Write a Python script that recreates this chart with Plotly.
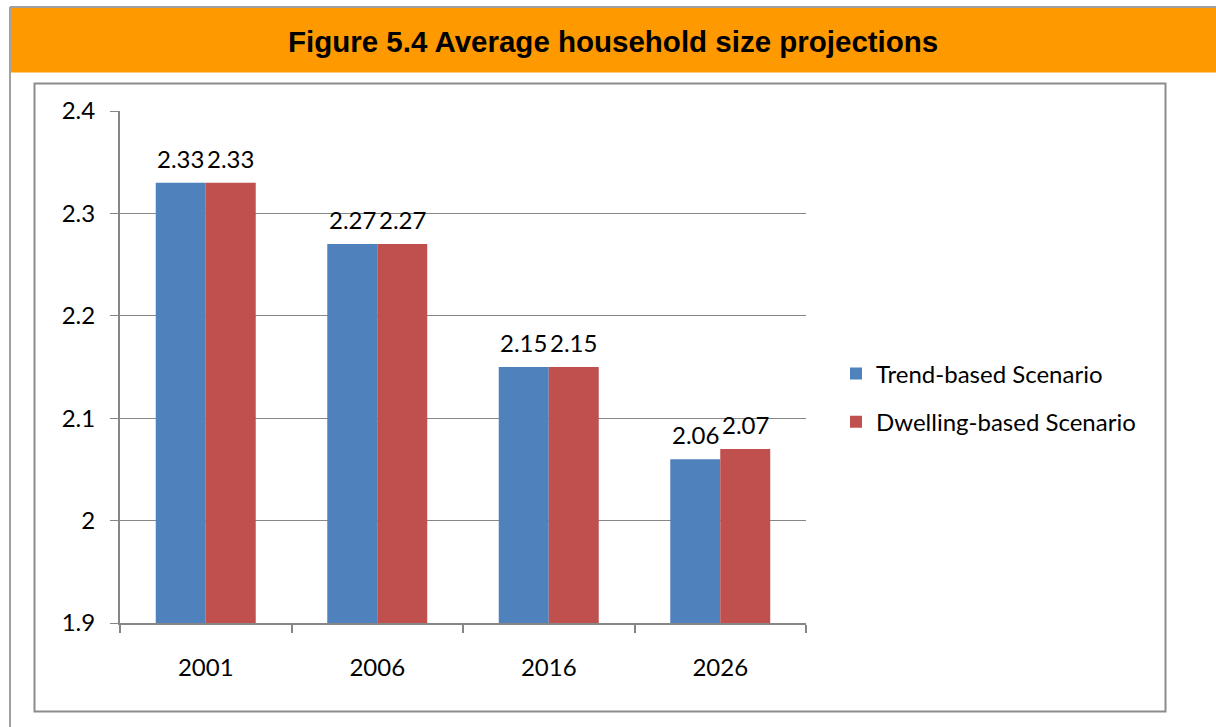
import plotly.graph_objects as go

categories = ["2001", "2006", "2016", "2026"]
trend_values = [2.33, 2.27, 2.15, 2.06]
dwelling_values = [2.33, 2.27, 2.15, 2.07]
series_names = ["Trend-based Scenario", "Dwelling-based Scenario"]
title_text = "Figure 5.4 Average household size projections"
y_ticks = [1.9, 2.0, 2.1, 2.2, 2.3, 2.4]

W, H = 1216, 727
PL, PR, PT, PB = 120, 806, 111, 623  # plot area pixel box
pw, ph = PR - PL, PB - PT


def px_x(x):
    return (x - PL) / pw


def px_y(y):
    return (PB - y) / ph


FONT = "Lato, 'Open Sans', sans-serif"
FS = 24
BLUE = "#4F81BD"
RED = "#C0504D"
GRID = "#868686"

fig = go.Figure()
fig.add_trace(go.Bar(x=categories, y=trend_values, name=series_names[0],
                     marker=dict(color=BLUE, line=dict(width=0)),
                     legendgroup="a"))
fig.add_trace(go.Bar(x=categories, y=dwelling_values, name=series_names[1],
                     marker=dict(color=RED, line=dict(width=0)),
                     legendgroup="b"))

annotations = []
for vals, shift in ((trend_values, -25), (dwelling_values, 25)):
    for i, v in enumerate(vals):
        annotations.append(dict(x=i, y=v, xref="x", yref="y", text=f"{v:.2f}",
                                showarrow=False, xshift=shift, yanchor="bottom",
                                yshift=8, font=dict(family=FONT, size=FS, color="black")))

annotations.append(dict(x=px_x(613), y=px_y(41), xref="paper", yref="paper",
                        text="<b>" + title_text + "</b>", showarrow=False,
                        xanchor="center", yanchor="middle",
                        font=dict(family="'Liberation Sans', Arial, sans-serif", size=29.5,
                                  color="black")))

shapes = [
    # orange header band
    dict(type="rect", xref="paper", yref="paper", x0=px_x(11), x1=px_x(W + 5),
         y0=px_y(72.5), y1=px_y(8), fillcolor="#FF9900", line=dict(width=0), layer="below"),
    # outer border (top and left)
    dict(type="line", xref="paper", yref="paper", x0=px_x(10), x1=px_x(W + 5),
         y0=px_y(7), y1=px_y(7), line=dict(color="#A0A0A0", width=2)),
    dict(type="line", xref="paper", yref="paper", x0=px_x(10), x1=px_x(10),
         y0=px_y(7), y1=px_y(H + 5), line=dict(color="#A0A0A0", width=2)),
    # chart area box
    dict(type="rect", xref="paper", yref="paper", x0=px_x(34.5), x1=px_x(1165.5),
         y0=px_y(711.5), y1=px_y(83.5), line=dict(color="#8C8C8C", width=2),
         fillcolor="rgba(0,0,0,0)", layer="below"),
]

fig.update_layout(
    width=W, height=H,
    margin=dict(l=PL, r=W - PR, t=PT, b=H - PB, pad=0),
    paper_bgcolor="white", plot_bgcolor="white",
    barmode="group", bargap=0.417, bargroupgap=0,
    font=dict(family=FONT, size=FS, color="black"),
    showlegend=True,
    legend=dict(x=px_x(836), y=px_y(398), xanchor="left", yanchor="middle",
                traceorder="grouped", tracegroupgap=14,
                font=dict(family=FONT, size=FS, color="black"),
                bgcolor="rgba(0,0,0,0)", itemclick=False),
    annotations=annotations,
    shapes=shapes,
    xaxis=dict(type="category", range=[-0.5, len(categories) - 0.5],
               showline=True, linecolor=GRID, linewidth=2,
               ticks="outside", tickson="boundaries", ticklen=8, tickcolor=GRID,
               tickwidth=2, showgrid=False, ticklabelstandoff=22, tickangle=0,
               tickfont=dict(family=FONT, size=FS, color="black"), fixedrange=True),
    yaxis=dict(range=[1.9, 2.4], tickvals=y_ticks,
               ticktext=[f"{t:g}" for t in y_ticks], showline=True,
               linecolor=GRID, linewidth=2, ticks="outside", ticklen=8, tickcolor=GRID,
               tickwidth=1, showgrid=True, gridcolor=GRID, gridwidth=1,
               zeroline=False, ticklabelstandoff=10,
               tickfont=dict(family=FONT, size=FS, color="black"), fixedrange=True),
)

fig.write_html("out.html", config={"displayModeBar": False},
               post_script="document.body.style.margin='0';document.body.style.overflow='hidden';")
